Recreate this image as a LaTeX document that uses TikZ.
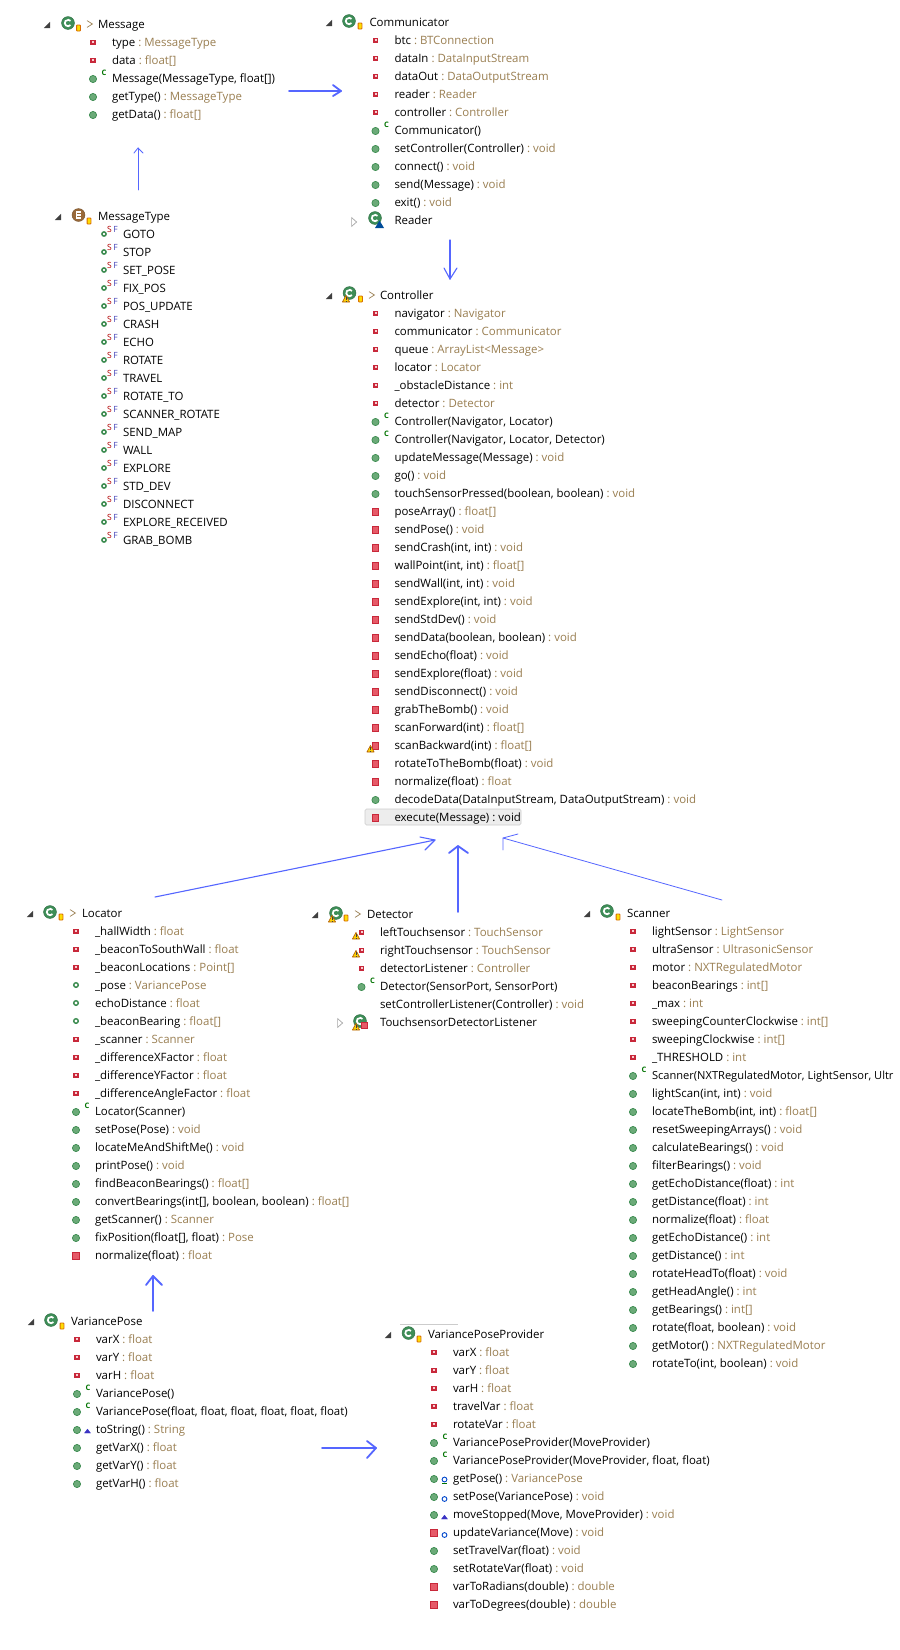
\documentclass[tikz,border=0pt]{standalone}
\usepackage{fontspec}
\setmainfont{Open Sans}
\definecolor{qual}{HTML}{9A7F52}
\definecolor{arrowb}{HTML}{5566FF}
\definecolor{pubf}{HTML}{6BAA78}
\definecolor{pubd}{HTML}{3C8C50}
\definecolor{redf}{HTML}{E65A68}
\definecolor{redd}{HTML}{C8283A}
\definecolor{gdisc}{HTML}{3E8E58}
\definecolor{edisc}{HTML}{9A6A3A}
\newcount\ry \newcount\rn
\newcommand\mainfs{\fontsize{11.45}{14}\selectfont}
\newcommand\tbase{4}
\tikzset{
  txt/.style={anchor=base west,inner sep=0pt,outer sep=0pt,text=black,font=\mainfs},
  ctag/.style={inner sep=0pt,text=green!45!black,font=\fontsize{7.5}{8}\selectfont\bfseries},
  stag/.style={inner sep=0pt,text=red!70!black,font=\fontsize{8.5}{9}\selectfont},
  ftag/.style={inner sep=0pt,text=blue!45!gray,font=\fontsize{8.5}{9}\selectfont},
  flow/.style={draw=arrowb,line width=1.1pt,line cap=round,line join=round},
  flowt/.style={flow,line width=0.8pt},
  flowl/.style={flow,line width=1.8pt},
}
% member icons, drawn around the row origin
\newcommand\iF{\fill[redd] (-2.7,-2.4) rectangle (2.7,3); \fill[white!70!redf] (-1,-0.7) rectangle (1,1.3);}
\newcommand\iP{\filldraw[fill=pubf,draw=pubd,line width=.7pt] (0,1) circle (3.6);}
\newcommand\iR{\filldraw[fill=redf,draw=redd,line width=.9pt] (-3.3,-2.3) rectangle (3.3,4.3);}
\newcommand\iK{\node[ctag,name=c\the\rn] at (11,-5) {C};}
\newcommand\iG{\draw[pubd,fill=white,line width=1.4pt] (0,0) circle (2.3);}
\newcommand\iW[2]{\begin{scope}[shift={(#1,#2)}]\filldraw[fill=yellow!70!orange,draw=orange!70!black,line width=.6pt,line join=round] (-3.6,3) -- (0,-3.6) -- (3.6,3) -- cycle; \fill[black!75] (-.5,-1.6) rectangle (.5,1); \fill[black!75] (-.5,1.5) rectangle (.5,2.4);\end{scope}}
\newcommand\iO[2]{\filldraw[fill=purple!10!blue!60!gray,draw=blue!60!gray,line width=.3pt] (#1-3,#2+2) -- (#1,#2-2) -- (#1+3,#2+2) -- cycle;}
\newcommand\iB[2]{\draw[blue!65!cyan!80!black,line width=.9pt] (#1,#2) circle (2.4);}
\newcommand\iSF{\draw[pubd,fill=white,line width=1.5pt] (0,1) circle (2.1);\node[stag,name=s\the\rn] at (5.5,-4) {S};\node[ftag,name=f\the\rn] at (11.5,-4) {F};}
% class icons
\newcommand\clsdisc[3]{\begin{scope}[shift={(#1,#2)}]\filldraw[fill=#3,draw=#3!80!black,line width=.5pt] (0,0) circle (6.4);\end{scope}}
\newcommand\icG[2]{\clsdisc{#1}{#2}{gdisc}\begin{scope}[shift={(#1,#2)}]\draw[white,line width=1.7pt] (2.45,2.06) arc[start angle=40,end angle=320,radius=3.2];\end{scope}}
\newcommand\icE[2]{\clsdisc{#1}{#2}{edisc}\begin{scope}[shift={(#1,#2)}]\draw[white,line width=1.3pt] (2.6,-3) -- (-2.2,-3) -- (-2.2,3) -- (2.6,3) (-2.2,0) -- (2,0);\end{scope}}
\newcommand\icBadge[2]{\begin{scope}[shift={(#1,#2)}]\filldraw[fill=yellow!80!orange,draw=orange!85!black,line width=.8pt,rounded corners=.6pt] (-1.9,-3) rectangle (1.9,3);\end{scope}}
\newcommand\triOpen[2]{\fill[black!75] (#1+3,#2-3.2) -- (#1+3,#2+3) -- (#1-3.2,#2+3) -- cycle;}
\newcommand\triShut[2]{\draw[black!35,line width=.7pt] (#1-2.4,#2-4.4) -- (#1+2.6,#2) -- (#1-2.4,#2+4.4) -- cycle;}
\newcommand\chev[2]{\draw[qual,line width=.7pt] (#1-3,#2-3.4) -- (#1+2.4,#2) -- (#1-3,#2+3.4);}
% row: icon code, name, type
\newcommand\mrow[3]{%
  \global\advance\rn by 1
  \begin{scope}[shift={(\ix,\the\ry)}]#1\end{scope}
  \node[txt,name=t\the\rn] at (\tx,\the\ry+\tbase) {#2\ifx&#3&\else\hspace{3pt}\textcolor{qual}{:\hspace{3pt}#3}\fi};
  \global\advance\ry by 18
}
\newcommand\hd[3]{% text x, y, text
  \global\advance\rn by 1
  \node[txt,name=t\the\rn] at (#1,#2+4) {#3};
}
\newcommand\arrowpath[7][flow]{%
  \coordinate (#2a) at (#3);\coordinate (#2b) at (#4);\coordinate (#2l) at (#5);\coordinate (#2r) at (#6);
  \draw[#1] (#2a) -- (#2b); \draw[#1] (#2l) -- (#2b) -- (#2r);
}
\begin{document}
\begin{tikzpicture}[x=1pt,y=-1pt]
\useasboundingbox (0,0) rectangle (900,1650);
\fill[white] (0,0) rectangle (900,1650);
% ---------- Message
\triOpen{47}{25}\icG{68}{23}\icBadge{78.5}{28}\chev{90}{24}
\hd{98}{24}{Message}
\def\ix{93}\def\tx{112}\ry=42
\mrow{\iF}{type}{MessageType}
\mrow{\iF}{data}{float[]}
\mrow{\iP\iK}{Message(MessageType, float[])}{}
\mrow{\iP}{getType()}{MessageType}
\mrow{\iP}{getData()}{float[]}
% ---------- Communicator
\triOpen{329}{23}\icG{349}{21}\icBadge{360}{26}
\hd{369.5}{22}{Communicator}
\def\ix{375.5}\def\tx{394.5}\ry=40
\mrow{\iF}{btc}{BTConnection}
\mrow{\iF}{dataIn}{DataInputStream}
\mrow{\iF}{dataOut}{DataOutputStream}
\mrow{\iF}{reader}{Reader}
\mrow{\iF}{controller}{Controller}
\mrow{\iP\iK}{Communicator()}{}
\mrow{\iP}{setController(Controller)}{void}
\mrow{\iP}{connect()}{void}
\mrow{\iP}{send(Message)}{void}
\mrow{\iP}{exit()}{void}
\triShut{354}{222}\icG{375}{218}
\fill[blue!50!cyan!60!black] (375,228) -- (379.5,220.5) -- (384,228) -- cycle;
\hd{394.5}{220}{Reader}
% ---------- MessageType
\triOpen{58}{217}\icE{78.5}{215}\icBadge{89}{221}
\hd{98}{216}{MessageType}
\renewcommand\tbase{5}
\def\ix{104}\def\tx{123}\ry=233
\mrow{\iSF}{GOTO}{}
\mrow{\iSF}{STOP}{}
\mrow{\iSF}{SET\_POSE}{}
\mrow{\iSF}{FIX\_POS}{}
\mrow{\iSF}{POS\_UPDATE}{}
\mrow{\iSF}{CRASH}{}
\mrow{\iSF}{ECHO}{}
\mrow{\iSF}{ROTATE}{}
\mrow{\iSF}{TRAVEL}{}
\mrow{\iSF}{ROTATE\_TO}{}
\mrow{\iSF}{SCANNER\_ROTATE}{}
\mrow{\iSF}{SEND\_MAP}{}
\mrow{\iSF}{WALL}{}
\mrow{\iSF}{EXPLORE}{}
\mrow{\iSF}{STD\_DEV}{}
\mrow{\iSF}{DISCONNECT}{}
\mrow{\iSF}{EXPLORE\_RECEIVED}{}
\mrow{\iSF}{GRAB\_BOMB}{}
\renewcommand\tbase{4}
% ---------- Controller
\triOpen{329}{296}\icG{349.5}{293}\iW{346}{299}\icBadge{360.5}{299}\chev{372}{295}
\hd{380}{295}{Controller}
\filldraw[fill=black!7,draw=black!20,line width=.6pt,rounded corners=1.5pt] (365,809) rectangle (521,825);
\def\ix{375.5}\def\tx{394.5}\ry=313
\mrow{\iF}{navigator}{Navigator}
\mrow{\iF}{communicator}{Communicator}
\mrow{\iF}{queue}{ArrayList<Message>}
\mrow{\iF}{locator}{Locator}
\mrow{\iF}{\_obstacleDistance}{int}
\mrow{\iF}{detector}{Detector}
\mrow{\iP\iK}{Controller(Navigator, Locator)}{}
\mrow{\iP\iK}{Controller(Navigator, Locator, Detector)}{}
\mrow{\iP}{updateMessage(Message)}{void}
\mrow{\iP}{go()}{void}
\mrow{\iP}{touchSensorPressed(boolean, boolean)}{void}
\mrow{\iR}{poseArray()}{float[]}
\mrow{\iR}{sendPose()}{void}
\mrow{\iR}{sendCrash(int, int)}{void}
\mrow{\iR}{wallPoint(int, int)}{float[]}
\mrow{\iR}{sendWall(int, int)}{void}
\mrow{\iR}{sendExplore(int, int)}{void}
\mrow{\iR}{sendStdDev()}{void}
\mrow{\iR}{sendData(boolean, boolean)}{void}
\mrow{\iR}{sendEcho(float)}{void}
\mrow{\iR}{sendExplore(float)}{void}
\mrow{\iR}{sendDisconnect()}{void}
\mrow{\iR}{grabTheBomb()}{void}
\mrow{\iR}{scanForward(int)}{float[]}
\mrow{\iR\iW{-5}{4}}{scanBackward(int)}{float[]}
\mrow{\iR}{rotateToTheBomb(float)}{void}
\mrow{\iR}{normalize(float)}{float}
\mrow{\iP}{decodeData(DataInputStream, DataOutputStream)}{void}
\mrow{\iR}{execute(Message)\hspace{3pt}:\hspace{3pt}void}{}
% ---------- Locator
\triOpen{30}{914}\icG{50}{912}\icBadge{61}{917}\chev{73}{913}
\hd{82}{913}{Locator}
\def\ix{76}\def\tx{95}\ry=931
\mrow{\iF}{\_hallWidth}{float}
\mrow{\iF}{\_beaconToSouthWall}{float}
\mrow{\iF}{\_beaconLocations}{Point[]}
\mrow{\iG}{\_pose}{VariancePose}
\mrow{\iG}{echoDistance}{float}
\mrow{\iG}{\_beaconBearing}{float[]}
\mrow{\iF}{\_scanner}{Scanner}
\mrow{\iF}{\_differenceXFactor}{float}
\mrow{\iF}{\_differenceYFactor}{float}
\mrow{\iF}{\_differenceAngleFactor}{float}
\mrow{\iP\iK}{Locator(Scanner)}{}
\mrow{\iP}{setPose(Pose)}{void}
\mrow{\iP}{locateMeAndShiftMe()}{void}
\mrow{\iP}{printPose()}{void}
\mrow{\iP}{findBeaconBearings()}{float[]}
\mrow{\iP}{convertBearings(int[], boolean, boolean)}{float[]}
\mrow{\iP}{getScanner()}{Scanner}
\mrow{\iP}{fixPosition(float[], float)}{Pose}
\mrow{\iR}{normalize(float)}{float}
% ---------- Detector
\triOpen{315}{915}\icG{336}{913}\iW{332}{919}\icBadge{346}{918}\chev{358}{914}
\hd{367}{914}{Detector}
\def\ix{361.5}\def\tx{380}\ry=932
\mrow{\iF\iW{-5.5}{4}}{leftTouchsensor}{TouchSensor}
\mrow{\iF\iW{-5.5}{4}}{rightTouchsensor}{TouchSensor}
\mrow{\iF}{detectorListener}{Controller}
\mrow{\iP\iK}{Detector(SensorPort, SensorPort)}{}
\mrow{}{setControllerListener(Controller)}{void}
\triShut{340}{1023}\icG{360}{1021}\iW{356}{1027}
\filldraw[fill=redf,draw=redd,line width=.9pt] (361,1022) rectangle (367.5,1028.5);
\hd{380}{1022}{TouchsensorDetectorListener}
% ---------- Scanner
\triOpen{587}{914}\icG{607}{911}\icBadge{618}{917}
\hd{627}{913}{Scanner}
\def\ix{633}\def\tx{652}\ry=931
\mrow{\iF}{lightSensor}{LightSensor}
\mrow{\iF}{ultraSensor}{UltrasonicSensor}
\mrow{\iF}{motor}{NXTRegulatedMotor}
\mrow{\iF}{beaconBearings}{int[]}
\mrow{\iF}{\_max}{int}
\mrow{\iF}{sweepingCounterClockwise}{int[]}
\mrow{\iF}{sweepingClockwise}{int[]}
\mrow{\iF}{\_THRESHOLD}{int}
\mrow{\iP\iK}{\fontsize{11.1}{14}\selectfont Scanner(NXTRegulatedMotor, LightSensor, Ultr}{}
\mrow{\iP}{lightScan(int, int)}{void}
\mrow{\iP}{locateTheBomb(int, int)}{float[]}
\mrow{\iP}{resetSweepingArrays()}{void}
\mrow{\iP}{calculateBearings()}{void}
\mrow{\iP}{filterBearings()}{void}
\mrow{\iP}{getEchoDistance(float)}{int}
\mrow{\iP}{getDistance(float)}{int}
\mrow{\iP}{normalize(float)}{float}
\mrow{\iP}{getEchoDistance()}{int}
\mrow{\iP}{getDistance()}{int}
\mrow{\iP}{rotateHeadTo(float)}{void}
\mrow{\iP}{getHeadAngle()}{int}
\mrow{\iP}{getBearings()}{int[]}
\mrow{\iP}{rotate(float, boolean)}{void}
\mrow{\iP}{getMotor()}{NXTRegulatedMotor}
\mrow{\iP}{rotateTo(int, boolean)}{void}
% ---------- VariancePose
\triOpen{31}{1322}\icG{51}{1320}\icBadge{62}{1326}
\hd{71}{1321}{VariancePose}
\def\ix{77}\def\tx{96}\ry=1339
\mrow{\iF}{varX}{float}
\mrow{\iF}{varY}{float}
\mrow{\iF}{varH}{float}
\mrow{\iP\iK}{VariancePose()}{}
\mrow{\iP\iK}{VariancePose(float, float, float, float, float, float)}{}
\mrow{\iP\iO{10.5}{2}}{toString()}{String}
\mrow{\iP}{getVarX()}{float}
\mrow{\iP}{getVarY()}{float}
\mrow{\iP}{getVarH()}{float}
% ---------- VariancePoseProvider
\coordinate (vpl) at (400,1324);\coordinate (vpr) at (458,1324);
\draw[black!20,line width=.7pt] (vpl) -- (vpr);
\triOpen{388}{1335}\icG{408.5}{1333}\icBadge{419}{1339}
\hd{428}{1334}{VariancePoseProvider}
\def\ix{434}\def\tx{453}\ry=1352
\mrow{\iF}{varX}{float}
\mrow{\iF}{varY}{float}
\mrow{\iF}{varH}{float}
\mrow{\iF}{travelVar}{float}
\mrow{\iF}{rotateVar}{float}
\mrow{\iP\iK}{VariancePoseProvider(MoveProvider)}{}
\mrow{\iP\iK}{VariancePoseProvider(MoveProvider, float, float)}{}
\mrow{\iP\iB{10.5}{1.5}\draw[green!45!black,line width=.9pt] (8,5) -- (13,5);}{getPose()}{VariancePose}
\mrow{\iP\iB{10.5}{3}}{setPose(VariancePose)}{void}
\mrow{\iP\iO{10.5}{3}}{moveStopped(Move, MoveProvider)}{void}
\mrow{\iR\iB{10.5}{3}}{updateVariance(Move)}{void}
\mrow{\iP}{setTravelVar(float)}{void}
\mrow{\iP}{setRotateVar(float)}{void}
\mrow{\iR}{varToRadians(double)}{double}
\mrow{\iR}{varToDegrees(double)}{double}
% ---------- arrows
\arrowpath[flowl]{a1}{289,91}{341,91}{333,85}{333,96}{}
\arrowpath[flowt]{a2}{138,190}{138,148}{134,153}{143,153}{}
\arrowpath[flow]{a3}{450,240}{450,279}{444,268}{457,268}{}
\arrowpath[flowl]{a4}{458,912}{458,846}{449,853}{468,853}{}
\arrowpath[flow]{a5}{155,897}{435,840}{420,837}{425,850}{}
\arrowpath[flowt]{a6}{722,900}{503,838}{503,850}{518,834}{}
\arrowpath[flowl]{a7}{153,1311}{153,1276}{146,1285}{162,1285}{}
\arrowpath[flowl]{a8}{322,1448}{376,1448}{367,1441}{367,1458}{}
\end{tikzpicture}
\end{document}
